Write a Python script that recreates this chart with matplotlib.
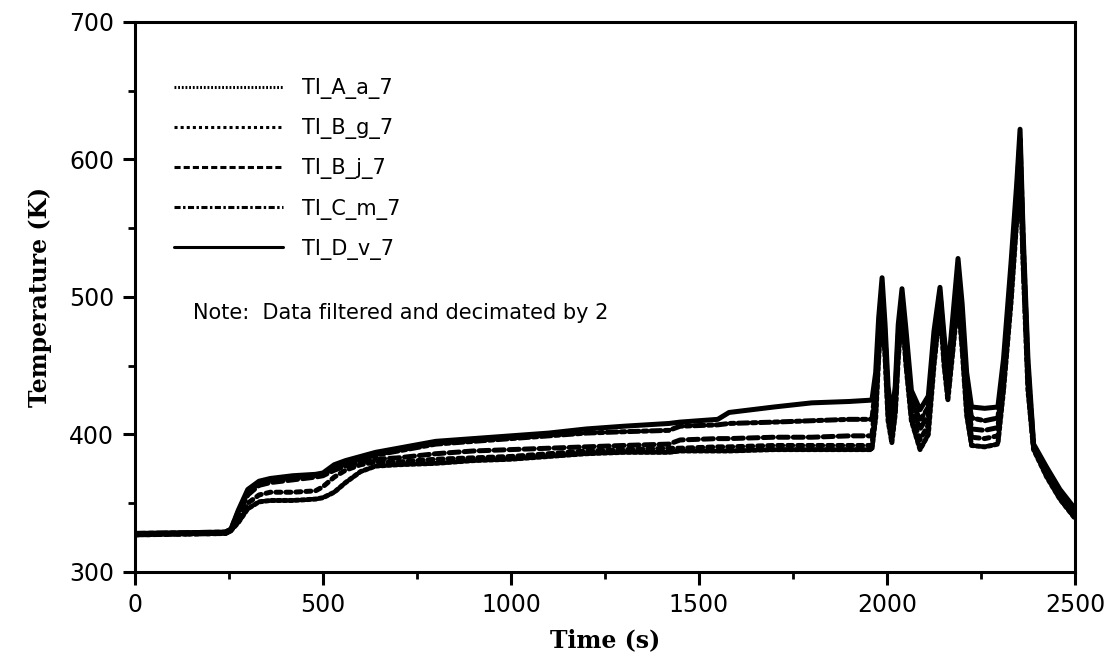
import numpy as np
import matplotlib
matplotlib.use("Agg")
import matplotlib.pyplot as plt
from matplotlib.ticker import MultipleLocator

# knot times (s)
time_s = [0, 240, 255, 275, 300, 330, 360, 420, 480, 500, 530, 560, 600, 640,
          700, 800, 900, 1000, 1100, 1200, 1300, 1420, 1450, 1550, 1580, 1700,
          1800, 1900, 1960, 1970, 1978, 1987, 1995, 2003, 2013, 2022, 2030,
          2040, 2050, 2065, 2088, 2110, 2125, 2141, 2152, 2162, 2175, 2189,
          2200, 2212, 2225, 2260, 2295, 2310, 2330, 2345, 2354, 2362, 2375,
          2390, 2425, 2460, 2500]

# temperatures (K)
ti_d_v_7 = [328, 329, 331, 345, 360, 366, 368, 370, 371, 372, 378, 381, 384, 387,
            390, 395, 397, 399, 401, 404, 406, 408, 409, 411, 416, 420,
            423, 424, 425, 445, 485, 514, 480, 435, 413, 435, 480,
            506, 478, 432, 418, 428, 475, 507, 472, 445, 485, 528,
            495, 445, 420, 419, 420, 455, 525, 582, 622, 548, 455,
            393, 376, 360, 346]
ti_c_m_7 = [328, 329, 331, 344, 358, 365, 367, 369, 370, 371, 376, 379, 382, 385,
            388, 393, 395, 397, 399, 401, 402, 403, 406, 407, 408, 409,
            410, 411, 411, 435, 475, 505, 472, 428, 408, 428, 472,
            500, 470, 426, 410, 420, 468, 504, 466, 440, 478, 520,
            485, 436, 412, 410, 412, 448, 515, 575, 615, 542, 448,
            392, 375, 359, 345]
ti_b_j_7 = [328, 328, 330, 342, 356, 363, 365, 367, 369, 370, 374, 377, 380, 382,
            383, 386, 388, 389, 390, 391, 392, 393, 396, 397, 397, 398,
            398, 399, 399, 425, 468, 500, 468, 422, 403, 422, 466,
            498, 464, 420, 404, 414, 462, 500, 460, 435, 472, 512,
            476, 428, 404, 403, 405, 442, 508, 568, 608, 536, 442,
            391, 373, 357, 343]
ti_b_g_7 = [327, 328, 330, 338, 350, 356, 358, 358, 359, 362, 369, 374, 378, 380,
            380, 382, 383, 384, 386, 388, 389, 390, 390, 391, 391, 392,
            392, 392, 392, 418, 462, 497, 462, 416, 398, 418, 460,
            494, 458, 415, 396, 407, 456, 496, 455, 430, 466, 505,
            468, 420, 398, 397, 399, 437, 502, 560, 600, 530, 437,
            390, 371, 355, 341]
ti_a_a_7 = [327, 328, 330, 336, 346, 351, 352, 352, 353, 354, 358, 365, 373, 377,
            378, 379, 381, 382, 384, 386, 387, 387, 388, 388, 388, 389,
            389, 389, 389, 412, 456, 492, 456, 410, 394, 415, 455,
            490, 452, 410, 389, 400, 450, 492, 450, 425, 460, 498,
            462, 414, 392, 391, 393, 432, 496, 555, 595, 525, 432,
            389, 369, 353, 339]

series = [
    ("TI_A_a_7", ti_a_a_7, (0, (0.6, 0.6))),
    ("TI_B_g_7", ti_b_g_7, (0, (1.0, 1.0))),
    ("TI_B_j_7", ti_b_j_7, (0, (2.0, 1.0))),
    ("TI_C_m_7", ti_c_m_7, (0, (2.0, 0.8, 0.8, 0.8))),
    ("TI_D_v_7", ti_d_v_7, "-"),
]

fig = plt.figure(figsize=(11.09, 6.64), dpi=100)
ax = fig.add_axes([0.1217, 0.1386, 0.8476, 0.8283])

for name, vals, ls in series:
    ax.plot(time_s, vals, color="black", lw=3.6, ls=ls, label=name,
            solid_capstyle="round", dash_capstyle="round",
            solid_joinstyle="round")

ax.set_xlim(0, 2500)
ax.set_ylim(300, 700)
ax.xaxis.set_major_locator(MultipleLocator(500))
ax.xaxis.set_minor_locator(MultipleLocator(250))
ax.yaxis.set_major_locator(MultipleLocator(100))
ax.yaxis.set_minor_locator(MultipleLocator(50))

for sp in ax.spines.values():
    sp.set_linewidth(2.2)

ax.tick_params(which="major", direction="out", length=9, width=2.2,
               labelsize=17, pad=6)
ax.tick_params(which="minor", direction="out", length=5, width=2.0)

ax.set_xlabel("Time (s)", family="DejaVu Serif", fontweight="bold",
              fontsize=17, labelpad=8)
ax.set_ylabel("Temperature (K)", family="DejaVu Serif", fontweight="bold",
              fontsize=17, labelpad=12)

leg = ax.legend(loc="upper left", bbox_to_anchor=(0.042, 0.898), frameon=False,
                fontsize=15, handlelength=5.2, handletextpad=0.9,
                labelspacing=0.92, borderpad=0, borderaxespad=0)
for h in leg.get_lines():
    h.set_linewidth(2.2)
    h.set_dash_capstyle("butt")

ax.text(0.062, 0.471, "Note:  Data filtered and decimated by 2",
        transform=ax.transAxes, fontsize=15, va="center", ha="left")

fig.savefig("out.png", dpi=100)
